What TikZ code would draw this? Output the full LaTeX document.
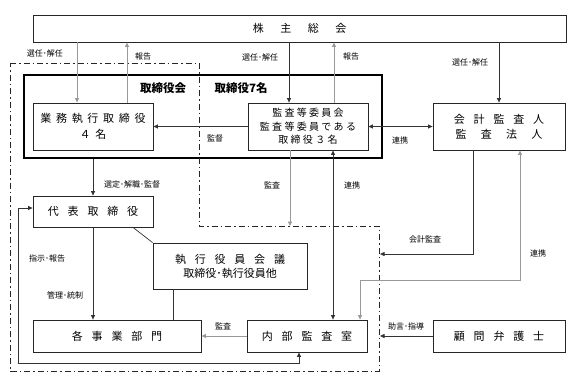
\documentclass[tikz,border=0pt]{standalone}
\usepackage{fontspec}
\newfontfamily\jp{Noto Sans CJK JP}
\usetikzlibrary{
  arrows.meta,
  calc
}
\tikzset{
  box/.style={draw=black!85,line width=0.8pt,inner sep=0pt,align=center,
    font={\jp\fontsize{11}{14}\selectfont\spaceskip=0.8em\relax}},
  lab/.style={font={\jp\fontsize{8}{9}\selectfont},inner sep=0pt},
  ln/.style={draw=black!80,line width=0.7pt},
  gln/.style={draw=black!40,line width=0.9pt},
  dashdot/.style={draw=black!85,line width=0.8pt,dash pattern=on 6pt off 3pt on 1.5pt off 3pt},
  >={Triangle[length=4.5pt,width=4pt]}
}

\begin{document}
\begin{tikzpicture}[x=1pt,y=-1pt]
                  \useasboundingbox (0,0) rectangle (567,381);

                  % boxes
                  \node[box,minimum width=533pt,minimum height=27pt] (meeting) at (299.5, 28.5) {株\hspace{1.5em}主\hspace{1.5em}総\hspace{1.5em}会};
                  \node[draw=black,line width=2.4pt,minimum width=358pt,minimum height=83pt] (board) at (203, 116.5) {};
                  \node[font={\jp\bfseries\fontsize{11.5}{12}\selectfont}] (boardname) at (163, 88) {取締役会};
                  \node[font={\jp\bfseries\fontsize{11.5}{12}\selectfont}] (boardnum) at (241, 88) {取締役7名};
                  \node[box,minimum width=120pt,minimum height=47pt,font={\jp\fontsize{11}{16}\selectfont\spaceskip=0.43em\relax}] (exec) at (93, 126.5) {業 務 執 行 取 締 役\\４ 名};
                  \node[box,minimum width=120pt,minimum height=47pt,font={\jp\fontsize{10}{13.5}\selectfont\spaceskip=0.23em\relax}] (audcom) at (308, 126.5) {監 査 等 委 員 会\\監 査 等 委 員 で あ る\\取 締 役 ３ 名};
                  \node[box,minimum width=132pt,minimum height=47pt,font={\jp\fontsize{11}{15}\selectfont\spaceskip=0.8em\relax}] (accaud) at (499, 126.5) {会 計 監 査 人\\監\hspace{1.3em}査\hspace{1.3em}法\hspace{1.3em}人};
                  \node[box,minimum width=120pt,minimum height=31pt] (rep) at (93, 211.5) {代 表 取 締 役};
                  \node[box,minimum width=154pt,minimum height=46pt] (officers) at (230, 266) {執 行 役 員 会 議\\取締役･執行役員他};
                  \node[box,minimum width=168pt,minimum height=32pt] (depts) at (117, 336) {各 事 業 部 門};
                  \node[box,minimum width=120pt,minimum height=32pt] (internal) at (307, 336) {内 部 監 査 室};
                  \node[box,minimum width=132pt,minimum height=32pt] (counsel) at (499, 336) {顧 問 弁 護 士};

                  % execution area
                  \draw[dashdot] (10, 63) -- (199, 63) -- (199, 226) -- (379, 226) -- (379, 371) -- (10, 371) -- cycle;
                  \coordinate (auditin) at (290, 226);
                  \coordinate (acctin) at (380, 254);
                  \coordinate (advin) at (380, 336);

                  % shareholders
                  \draw[gln,->] ($(meeting.south) + (-222.5, 0)$) -- ($(exec.north) + (-16, 0)$);
                  \draw[gln,->] ($(exec.north) + (34, 0)$) -- ($(meeting.south) + (-172.5, 0)$);
                  \draw[ln,->] ($(meeting.south) + (-10.5, 0)$) -- ($(audcom.north) + (-19, 0)$);
                  \draw[gln,->] ($(audcom.north) + (26, 0)$) -- ($(meeting.south) + (34.5, 0)$);
                  \draw[ln,->] ($(meeting.south) + (199.5, 0)$) -- (accaud.north);
                  \node[lab] (sel1) at (45, 53) {選任･解任};
                  \node[lab] (rep1) at (143, 56) {報告};
                  \node[lab] (sel2) at (260, 57) {選任･解任};
                  \node[lab] (rep2) at (351, 56) {報告};
                  \node[lab] (sel3) at (470, 62) {選任･解任};

                  % audit committee
                  \draw[ln,->] (audcom.west) -- (exec.east);
                  \draw[ln,<->] (audcom.east) -- (accaud.west);
                  \draw[gln,->] ($(audcom.south) + (-18, 0)$) -- (auditin);
                  \draw[ln,<->] ($(audcom.south) + (25, 0)$) -- ($(internal.north) + (26, 0)$);
                  \node[lab] (sup) at (215, 138) {監督};
                  \node[lab] (coop1) at (400, 140) {連携};
                  \node[lab] (aud1) at (272, 185) {監査};
                  \node[lab] (coop2) at (352, 185) {連携};

                  % execution
                  \draw[ln,->] ($(board.south) + (-110, 0)$) -- (rep.north);
                  \draw[ln,->] (rep.south) -- ($(depts.north) + (-24, 0)$);
                  \draw[ln] ($(rep.south) + (40, 0)$) -- (officers.north west);
                  \draw[ln] ($(officers.south) + (-57, 0)$) -- ($(depts.north) + (56, 0)$);
                  \draw[gln,->] (internal.west) -- (depts.east);
                  \draw[ln,<->] ($(internal.south) + (-8, 0)$) -- ++(0, 11) -| ($(rep.west) + (-14, -3.5)$) -- ($(rep.west) + (0, -3.5)$);
                  \node[lab] (appoint) at (132, 184) {選定･解職･監督};
                  \node[lab] (instr) at (47, 258) {指示･報告};
                  \node[lab] (mgmt) at (65, 295) {管理･統制};
                  \node[lab] (aud2) at (223, 326) {監査};

                  % accounting auditor and counsel
                  \draw[ln,->] ($(accaud.south) + (-26, 0)$) |- (acctin);
                  \draw[gln,<->] ($(accaud.south) + (21, 0)$) -- ++(0, 130) -| ($(internal.north) + (53, 0)$);
                  \draw[ln,->] (counsel.west) -- (advin);
                  \node[lab] (acct) at (425, 239) {会計監査};
                  \node[lab] (coop3) at (538, 253) {連携};
                  \node[lab] (adv) at (406, 326) {助言･指導};
                \end{tikzpicture}
\end{document}
